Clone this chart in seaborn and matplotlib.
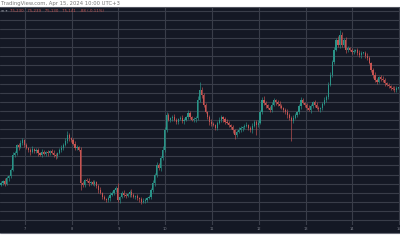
import matplotlib
matplotlib.use("Agg")
import matplotlib.pyplot as plt
from matplotlib.lines import Line2D
import seaborn as sns
import numpy as np
import pandas as pd

# ---- data (price units) ----
first_open = 48
closes = [50, 52, 49, 55, 57, 63, 78, 80, 88, 86, 90, 93, 88,
          85, 83, 81, 84, 82, 83, 80, 78, 81, 79, 81, 80,
          82, 80, 78, 77, 80, 83, 85, 88, 92, 98, 95, 93, 89, 85, 86, 83,
          50, 48, 53, 52, 50, 51, 49, 51, 47, 43, 40, 36,
          34, 33, 35, 38, 40, 43, 45, 33, 36, 40, 38, 37, 39, 41, 38, 36, 37, 35, 34, 31, 32, 33, 35, 36,
          43, 50, 58, 68, 65, 75, 83, 103,
          118, 113, 115, 116, 113, 111, 114, 115, 112, 113, 116, 120, 116, 113, 114, 115,
          133, 143, 138, 128, 121, 116, 111, 109, 108, 105,
          110, 113, 116, 114, 111, 110, 108, 106, 103, 98, 101, 103, 105, 106, 107, 108, 105, 103, 107, 111,
          108, 110, 121, 133, 130, 128, 125, 123, 128, 133, 131, 129, 127, 125, 123, 121, 118, 115,
          112, 115, 118, 121, 127, 133, 130, 128, 125, 123, 127, 131, 128, 125, 124, 125, 129, 133,
          136, 148, 158, 171, 183, 193, 188, 198, 188, 193, 183, 185, 183, 181,
          182, 183, 180, 178, 180, 180, 177, 175, 170, 163, 158, 153, 151, 156, 154, 153, 150, 148, 147, 145, 144, 143, 145, 145]

wick_hi = [2, 1, 3, 2, 1, 2, 3, 2, 1, 2, 3, 2, 1,
           2, 1, 2, 3, 1, 2, 2, 1, 3, 2, 1, 2,
           1, 2, 3, 2, 1, 2, 3, 2, 3, 4, 2, 1, 2, 3, 2, 1,
           3, 2, 1, 2, 3, 1, 2, 2, 1, 2, 3, 1,
           2, 1, 2, 3, 2, 1, 2, 5, 1, 2, 3, 2, 1, 2, 3, 2, 1, 2, 1, 2, 3, 2, 1, 2,
           2, 3, 2, 3, 2, 2, 4, 3,
           3, 2, 1, 2, 3, 2, 1, 2, 3, 2, 1, 3, 2, 1, 2, 2,
           4, 8, 3, 2, 2, 1, 2, 3, 2, 1,
           2, 3, 2, 1, 2, 3, 2, 1, 2, 1, 2, 3, 2, 1, 2, 3, 1, 2, 3, 2,
           2, 3, 2, 3, 4, 2, 1, 2, 3, 2, 1, 2, 3, 2, 1, 2, 3, 2,
           2, 3, 2, 1, 2, 3, 2, 1, 2, 3, 2, 1, 2, 3, 2, 1, 2, 3,
           2, 3, 3, 2, 3, 2, 4, 5, 3, 2, 3, 2, 1, 2,
           2, 1, 2, 3, 2, 1, 2, 3, 2, 1, 2, 3, 2, 1, 2, 3, 2, 1, 2, 1, 2, 3, 2, 1]

wick_lo = [1, 2, 2, 1, 3, 2, 1, 2, 2, 3, 1, 2, 2,
           1, 2, 3, 1, 2, 2, 3, 1, 2, 1, 2, 3,
           2, 1, 2, 3, 2, 1, 2, 2, 1, 2, 3, 2, 1, 2, 2, 1,
           7, 2, 2, 1, 3, 2, 1, 2, 2, 3, 1, 2,
           1, 2, 2, 3, 1, 2, 2, 2, 3, 1, 2, 2, 1, 3, 2, 1, 2, 2, 3, 2, 1, 2, 2, 1,
           2, 2, 3, 2, 2, 3, 2, 2,
           2, 1, 2, 3, 1, 2, 2, 1, 2, 3, 1, 2, 2, 1, 2, 3,
           2, 2, 3, 2, 1, 2, 3, 2, 1, 2,
           2, 1, 2, 3, 2, 1, 2, 2, 3, 4, 2, 1, 2, 3, 2, 1, 2, 2, 3, 1,
           10, 2, 1, 2, 2, 3, 1, 2, 2, 1, 3, 2, 2, 1, 2, 2, 3, 2,
           20, 2, 1, 2, 2, 3, 1, 2, 2, 1, 3, 2, 2, 1, 2, 3, 2, 1,
           2, 2, 1, 2, 2, 1, 2, 3, 2, 2, 3, 2, 1, 2,
           2, 1, 2, 2, 3, 1, 2, 2, 1, 2, 3, 2, 2, 1, 2, 2, 3, 1, 2, 2, 1, 2, 2, 1]

day_labels = ["7", "8", "9", "10", "11", "12", "13", "14", "15"]
header_text = "TradingView.com, Apr 15, 2024 10:00 UTC+3"
ohlc_text = "75,230   75,239   75,130   75,141   -88 (-0.11%)"

# ---- build table ----
n = min(len(closes), len(wick_hi), len(wick_lo))
opens = [first_open] + closes[:n - 1]
df = pd.DataFrame({"i": np.arange(n), "open": opens[:n], "close": closes[:n],
                   "whi": wick_hi[:n], "wlo": wick_lo[:n]})
df["high"] = df[["open", "close"]].max(axis=1) + df["whi"]
df["low"] = df[["open", "close"]].min(axis=1) - df["wlo"]
df["up"] = df["close"] >= df["open"]

sns.set_theme(style="dark")
plt.rcParams['font.family'] = ['DejaVu Sans']

W, H = 400, 250
fig = plt.figure(figsize=(4, 2.5), dpi=100)
fig.patch.set_facecolor("white")

BG = "#141824"
GRID = "#393d49"
UP = "#2a9488"
DOWN = "#c65452"

bg = fig.add_axes([0, (H - 233) / H, 1, 226 / H])
bg.set_facecolor(BG)
bg.set_xticks([]); bg.set_yticks([])
for s in bg.spines.values():
    s.set_visible(False)

ax = fig.add_axes([0, (H - 225) / H, 1, 218 / H])
ax.set_facecolor("none")
for s in ax.spines.values():
    s.set_visible(False)
ax.set_xticks([]); ax.set_yticks([])

step = 46.75 / 24.0
ax.set_xlim(-0.5, W / step - 0.5)
ax.set_ylim(233 - 225, 233 - 7)

# grid
for k in range(24):
    ax.axhline(13 + 9.09 * k, color=GRID, lw=0.8, zorder=0)
day_pos = [25 / step - 0.5 + 24 * k for k in range(len(day_labels))]
for xp in day_pos:
    ax.axvline(xp, color=GRID, lw=0.8, zorder=0)

# candles
colors = np.where(df["up"], UP, DOWN)
ax.vlines(df["i"], df["low"], df["high"], colors=colors, lw=0.45, zorder=2)
body = (df["close"] - df["open"]).to_numpy().astype(float)
body = np.where(np.abs(body) < 0.6, 0.6, body)
ax.bar(df["i"], body, bottom=df["open"], width=0.6, color=colors, linewidth=0, zorder=3)

# borders
fig.add_artist(Line2D([0, 1], [(H - 7) / H] * 2, color="#50535e", lw=0.8))
fig.add_artist(Line2D([0, 1], [(H - 233) / H] * 2, color="#6a6d78", lw=0.8))

# texts
fig.text(1 / W, (H - 3.5) / H, header_text, fontsize=3.8, color="#777777",
         va="center", ha="left")
fig.text(1 / W, (H - 11) / H, "\u2261 \u25be", fontsize=2.8, color="#787b86", va="center")
fig.text(10 / W, (H - 11) / H, ohlc_text, fontsize=2.8, color=DOWN, va="center")
for xp, lab in zip(day_pos, day_labels):
    xpix = (xp + 0.5) * step
    fig.text(xpix / W, (H - 229) / H, lab, fontsize=2.6, color="#787b86",
             ha="center", va="center")

fig.savefig("out.png", dpi=100, facecolor="white")
